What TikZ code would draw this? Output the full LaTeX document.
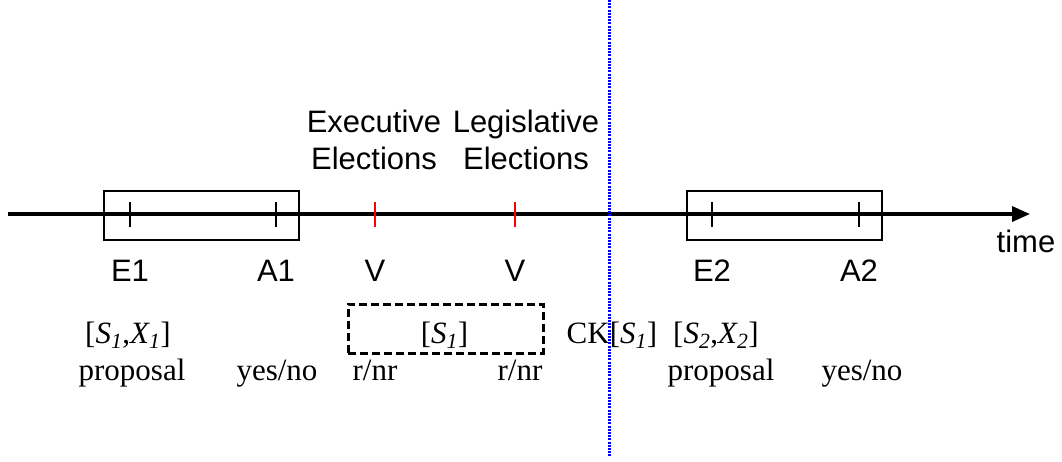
\documentclass[tikz,border=0pt]{standalone}
\usepackage{fontspec}
\setmainfont{Liberation Serif}
\setsansfont{Liberation Sans}
\usetikzlibrary{calc,arrows.meta,positioning}
\newcommand{\indexed}[2]{\textit{#1\textsubscript{#2}}}

\begin{document}
\begin{tikzpicture}[x=1pt, y=-1pt, >={Triangle[length=18pt, width=15pt]}]
        \tikzset{
                sans/.style     = {font=\fontsize{31}{37}\selectfont\sffamily, inner sep=0pt},
                serif/.style    = {font=\fontsize{31}{37}\selectfont\rmfamily, inner sep=0pt, anchor=base},
                tickline/.style = {draw, line width=2pt},
                period/.style   = {draw, line width=2pt, inner sep=0pt,
                                   minimum width=195pt, minimum height=49pt},
                stage/.style    = {draw, line width=3pt, dash pattern=on 8pt off 4pt, inner sep=0pt,
                                   minimum width=195pt, minimum height=49pt},
                cut/.style      = {draw=blue, line width=3pt, dash pattern=on 2pt off 1.2pt}
        }
        \useasboundingbox (0,0) rectangle (1062,461);

        % points in time on the axis
        \foreach \name/\x in {e1/130, a1/276, v1/375, v2/515, e2/712, a2/859}
                \coordinate (\name) at (\x,214);
        \coordinate (start) at (8,214);
        \coordinate (stop) at (1030,214);

        % the two proposal periods, boxed
        \node[period] (p1) at (201.5,215.5) {};
        \node[period] (p2) at (784.5,215.5) {};

        % time axis
        \draw[->, line width=3.5pt] (start) -- (stop);

        % ticks: proposals and answers in black, elections in red
        \foreach \name in {e1,a1,e2,a2}
                \draw[tickline] ($(\name)+(0,-12)$) -- ($(\name)+(0,13)$);
        \foreach \name in {v1,v2}
                \draw[tickline, red] ($(\name)+(0,-12)$) -- ($(\name)+(0,13)$);

        % labels under the ticks
        \foreach \name/\txt in {e1/E1, a1/A1, v1/V, v2/V, e2/E2, a2/A2}
                \node[sans, anchor=base] (l\name) at ($(\name)+(0,67)$) {\txt};
        \node[sans, anchor=base] (time) at (1026,252) {time};

        % election labels above the red ticks
        \node[sans, align=center, anchor=south] (exec) at ($(v1)+(-1,-44)$) {Executive\\Elections};
        \node[sans, align=center, anchor=south] (legis) at ($(v2)+(11,-44)$) {Legislative\\Elections};

        % what happens at each step
        \node[serif] (s1x1) at ($(e1)+(-2,129)$) {[\indexed{S}{1},\indexed{X}{1}]};
        \node[serif] (prop1) at ($(e1)+(2,166)$) {proposal};
        \node[serif] (yn1) at ($(a1)+(1,166)$) {yes/no};
        \node[serif] (rnr1) at ($(v1)+(0,166)$) {r/nr};
        \node[serif] (rnr2) at ($(v2)+(5,166)$) {r/nr};
        \node[stage] (vote) at (445.5,328.5) {};
        \node[serif] (s1) at ($(vote)+(-1,14.5)$) {[\indexed{S}{1}]};
        \node[serif] (ck) at (612,343) {CK[\indexed{S}{1}]};
        \node[serif] (s2x2) at ($(e2)+(4,129)$) {[\indexed{S}{2},\indexed{X}{2}]};
        \node[serif] (prop2) at ($(e2)+(9,166)$) {proposal};
        \node[serif] (yn2) at ($(a2)+(3,166)$) {yes/no};

        % common knowledge cut
        \coordinate (top) at (609,0);
        \coordinate (bottom) at (609,457);
        \draw[cut] (top) -- (bottom);
\end{tikzpicture}
\end{document}
